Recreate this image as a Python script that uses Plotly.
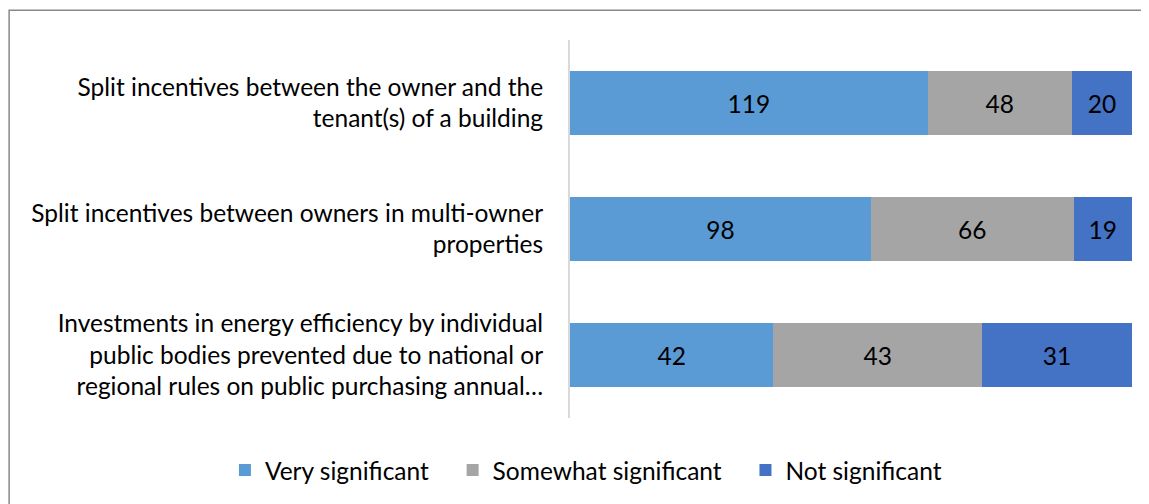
import plotly.graph_objects as go

categories = [
    "Split incentives between the owner and the<br>tenant(s) of a building",
    "Split incentives between owners in multi-owner<br>properties",
    "Investments in energy efficiency by individual<br>public bodies prevented due to national or<br>regional rules on public purchasing annual…",
]
very_significant = [119, 98, 42]
somewhat_significant = [48, 66, 43]
not_significant = [20, 19, 31]
series_names = ["Very significant", "Somewhat significant", "Not significant"]

series = [
    (series_names[0], very_significant, "#5B9BD5"),
    (series_names[1], somewhat_significant, "#A5A5A5"),
    (series_names[2], not_significant, "#4472C4"),
]

FONT = "Lato"
FS = 24.5
PAD = "\u00a0\u00a0\u00a0"
fig = go.Figure()
for i, (name, vals, color) in enumerate(series):
    fig.add_trace(go.Bar(
        y=categories, x=vals, name=name + (PAD if i < 2 else ""), orientation="h",
        marker=dict(color=color, line=dict(width=0)),
        text=[str(v) for v in vals], textposition="inside",
        insidetextanchor="middle",
        textfont=dict(color="#000000", size=FS, family=FONT),
        hoverinfo="x+name",
    ))

fig.update_layout(
    barmode="stack", barnorm="percent", bargap=0.49,
    width=1141, height=496,
    margin=dict(l=562, r=17, t=32, b=86),
    paper_bgcolor="white", plot_bgcolor="white",
    font=dict(family=FONT, size=FS, color="#000000"),
    showlegend=True,
    legend=dict(orientation="h", xref="paper", x=-0.614, xanchor="left",
                yref="paper", y=-0.1376, yanchor="middle",
                font=dict(size=FS, family=FONT), traceorder="normal",
                itemwidth=30, itemsizing="constant"),
    uniformtext=dict(minsize=10, mode="show"),
)
fig.update_xaxes(visible=False, range=[0, 100], fixedrange=True)
fig.update_yaxes(autorange="reversed", showline=True, linecolor="#D9D9D9", linewidth=2,
                 ticks="", ticklabelstandoff=20, showgrid=False,
                 tickfont=dict(size=FS, family=FONT, color="#000000"))
fig.add_shape(type="rect", xref="paper", yref="paper",
              x0=-0.998, x1=1.2, y0=-0.5, y1=1.079,
              line=dict(color="#888888", width=1.5), fillcolor="rgba(0,0,0,0)", layer="below")
fig.write_html("out.html")
